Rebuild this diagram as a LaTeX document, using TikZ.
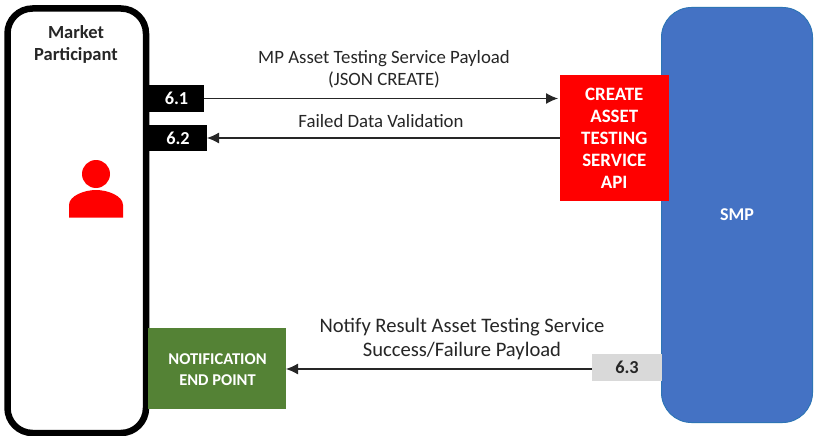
\documentclass[tikz,border=0pt]{standalone}
\usepackage{fontspec}
\setmainfont{Carlito}
\usetikzlibrary{arrows.meta}
\definecolor{smpblue}{HTML}{4472C4}
\definecolor{smpedge}{HTML}{2E75B6}
\definecolor{notegreen}{HTML}{548235}
\definecolor{tagrey}{HTML}{D9D9D9}
\definecolor{inkgrey}{HTML}{262626}
\tikzset{
  box/.style={inner sep=0pt,outer sep=0pt,align=center,font=\fontsize{18.9}{22}\selectfont\bfseries},
  tag/.style={box,font=\fontsize{18.3}{20}\selectfont\bfseries},
  lbl/.style={inner sep=0pt,align=center,text=inkgrey,font=\fontsize{18.8}{22}\selectfont},
  flow/.style={draw=black!85,line width=1.1pt,-{Latex[length=12pt,width=11pt]}}
}
\begin{document}
\begin{tikzpicture}[x=1pt,y=-1pt]
\useasboundingbox (0,0) rectangle (814,436);
\fill[white] (0,0) rectangle (814,436);
% large containers
\node[draw=black,line width=6.5pt,fill=white,rounded corners=25pt,minimum width=138.5pt,minimum height=424.5pt,inner sep=0pt] (mp) at (76.75,220.75) {};
\node[draw=smpedge,line width=1pt,fill=smpblue,rounded corners=30pt,minimum width=151pt,minimum height=415pt,inner sep=0pt] (smp) at (737,215) {};
\node[box,text=white,font=\fontsize{18}{22}\selectfont\bfseries] (smplabel) at (737,215) {SMP};
\node[lbl,font=\fontsize{18.5}{22}\selectfont\bfseries] (mplabel) at (76,44) {Market\\Participant};
% person icon
\fill[red] (96,174) circle (14);
\fill[red] (69,217.5) -- (69,205) .. controls (69,196) and (84,190) .. (96,190) .. controls (108,190) and (123,196) .. (123,205) -- (123,217.5) -- cycle;
% boxes
\node[box,fill=red,text=white,minimum width=109.5pt,minimum height=126pt] (api) at (614.25,138) {CREATE\\ASSET\\TESTING\\SERVICE\\API};
\node[box,fill=notegreen,minimum width=138pt,minimum height=81.5pt] (note) at (217,368.25) {};
\node[box,text=white,font=\fontsize{16.5}{20.5}\selectfont\bfseries] (notelabel) at (217.5,369.75) {NOTIFICATION\\END POINT};
\node[tag,fill=black,text=white,minimum width=55pt,minimum height=27.5pt] (t1) at (176.5,98.5) {6.1};
\node[tag,fill=black,text=white,minimum width=58pt,minimum height=26pt] (t2) at (178,138) {6.2};
\node[tag,fill=tagrey,text=inkgrey,minimum width=70pt,minimum height=26.4pt] (t3) at (627,367.5) {6.3};
% connectors
\draw[flow,shorten >=1.5pt] (t1.east) -- (api.west |- t1.east);
\draw[flow] (api.west |- t2.east) -- (t2.east);
\draw[flow] ([yshift=-1.5pt]t3.west) -- ([yshift=-1.5pt]note.east |- t3.west);
% labels
\node[lbl] (l1) at (384,69) {MP Asset Testing Service Payload\\(JSON CREATE)};
\node[lbl] (l2) at (381,121) {Failed Data Validation};
\node[lbl,font=\fontsize{20.6}{24}\selectfont] (l3) at (462,339) {Notify Result Asset Testing Service\\Success/Failure Payload};
\end{tikzpicture}
\end{document}
